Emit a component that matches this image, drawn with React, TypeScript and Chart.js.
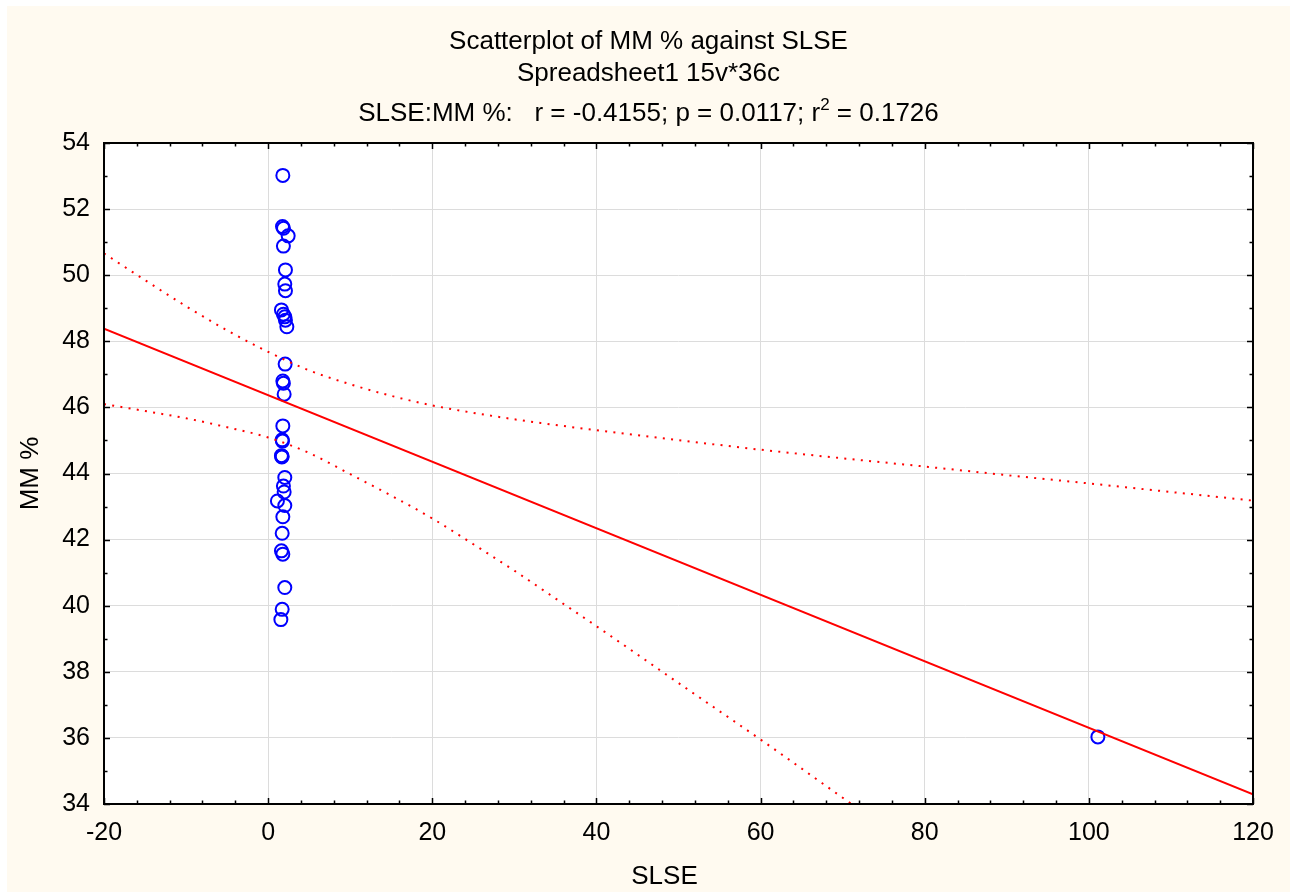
import React, { useEffect, useRef } from 'react';
import { Chart, registerables } from 'chart.js';

Chart.register(...registerables);

// Observations: SLSE (x) and MM % (y), 36 cases
const slseValues = [
  1.79, 1.75, 1.87, 2.44, 1.86, 2.11, 2.03, 2.11, 1.62, 1.86, 2.03, 2.11,
  2.28, 2.07, 1.79, 1.86, 1.95, 1.79, 1.71, 1.75, 1.62, 1.71, 1.67, 2.03,
  1.86, 1.95, 1.13, 2.03, 1.79, 1.71, 1.62, 1.79, 2.03, 1.71, 1.55, 101.1,
];
const mmValues = [
  53.02, 51.47, 51.42, 51.19, 50.88, 50.16, 49.73, 49.53, 48.95, 48.82, 48.74, 48.64,
  48.44, 47.31, 46.80, 46.73, 46.40, 45.44, 45.02, 44.98, 44.54, 44.52, 44.50, 43.88,
  43.62, 43.44, 43.17, 43.03, 42.69, 42.19, 41.66, 41.56, 40.55, 39.89, 39.58, 36.03,
];

// Linear fit across the axis range
const fitX = [-20, 120];
const fitY = [48.38, 34.29];

// 95% confidence band of the fit
const upperBandX = [-20, -15, -10, -5, 0, 5, 10, 15, 20, 30, 40, 50, 60, 70, 80, 90, 100, 110, 120];
const upperBandY = [50.66, 49.85, 49.06, 48.33, 47.68, 47.12, 46.70, 46.35, 46.06, 45.64, 45.31, 45.01, 44.72, 44.46, 44.21, 43.95, 43.70, 43.44, 43.18];
const lowerBandX = [-20, -15, -10, -5, 0, 5, 10, 15, 20, 25, 30, 35, 40, 50, 60, 70, 72];
const lowerBandY = [46.10, 45.89, 45.67, 45.40, 45.09, 44.62, 43.98, 43.33, 42.64, 41.86, 41.06, 40.22, 39.38, 37.66, 35.95, 34.19, 33.84];

// Axis ranges and tick steps
const xRange = [-20, 120];
const yRange = [34, 54];
const xMajorStep = 20;
const xMinorStep = 4;
const yMajorStep = 2;
const yMinorStep = 1;

// Text
const titleLine1 = 'Scatterplot of MM % against SLSE';
const titleLine2 = 'Spreadsheet1 15v*36c';
const statsPrefix = 'SLSE:MM %:   r = -0.4155; p = 0.0117; r';
const statsSup = '2';
const statsSuffix = ' = 0.1726';
const xTitle = 'SLSE';
const yTitle = 'MM %';

const FONT = '"Liberation Sans", Arial, Helvetica, sans-serif';
const zip = (xs: number[], ys: number[]) => xs.map((x, i) => ({ x, y: ys[i] }));

const decorPlugin = {
  id: 'statDecor',
  beforeDraw(chart: any) {
    const { ctx, width, height, chartArea } = chart;
    ctx.save();
    ctx.fillStyle = '#fffaf0';
    ctx.fillRect(0, 0, width, height);
    ctx.fillStyle = '#ffffff';
    ctx.fillRect(chartArea.left, chartArea.top, chartArea.right - chartArea.left, chartArea.bottom - chartArea.top);
    ctx.restore();
  },
  afterDraw(chart: any) {
    const { ctx, width, chartArea } = chart;
    const { left, right, top, bottom } = chartArea;
    const xs = chart.scales.x;
    const ys = chart.scales.y;
    ctx.save();

    // frame
    ctx.strokeStyle = '#000';
    ctx.lineWidth = 2;
    ctx.strokeRect(left, top, right - left, bottom - top);

    // inward tick marks on all four sides
    ctx.lineWidth = 1.5;
    ctx.beginPath();
    for (let v = xRange[0]; v <= xRange[1] + 1e-9; v += xMinorStep) {
      const px = Math.round(xs.getPixelForValue(v)) + 0.5;
      const len = Math.abs(v % xMajorStep) < 1e-9 ? 6 : 3.5;
      ctx.moveTo(px, bottom);
      ctx.lineTo(px, bottom - len);
      ctx.moveTo(px, top);
      ctx.lineTo(px, top + len);
    }
    for (let v = yRange[0]; v <= yRange[1] + 1e-9; v += yMinorStep) {
      const py = Math.round(ys.getPixelForValue(v)) + 0.5;
      const len = Math.abs(v % yMajorStep) < 1e-9 ? 6 : 3.5;
      ctx.moveTo(left, py);
      ctx.lineTo(left + len, py);
      ctx.moveTo(right, py);
      ctx.lineTo(right - len, py);
    }
    ctx.stroke();

    // titles
    ctx.fillStyle = '#000';
    ctx.textBaseline = 'middle';
    ctx.textAlign = 'center';
    ctx.font = `26px ${FONT}`;
    const cx = width / 2;
    ctx.fillText(titleLine1, cx, 36);
    ctx.fillText(titleLine2, cx, 68);

    // statistics line with superscript
    ctx.textAlign = 'left';
    const mainFont = `26px ${FONT}`;
    const supFont = `17px ${FONT}`;
    ctx.font = mainFont;
    const wPre = ctx.measureText(statsPrefix).width;
    const wSuf = ctx.measureText(statsSuffix).width;
    ctx.font = supFont;
    const wSup = ctx.measureText(statsSup).width;
    let sx = cx - (wPre + wSup + wSuf) / 2;
    ctx.font = mainFont;
    ctx.fillText(statsPrefix, sx, 108);
    sx += wPre;
    ctx.font = supFont;
    ctx.fillText(statsSup, sx, 99);
    sx += wSup;
    ctx.font = mainFont;
    ctx.fillText(statsSuffix, sx, 108);

    // axis titles
    ctx.textAlign = 'center';
    ctx.font = `26px ${FONT}`;
    ctx.fillText(xTitle, (left + right) / 2 - 14, 871);
    ctx.translate(24, (top + bottom) / 2);
    ctx.rotate(-Math.PI / 2);
    ctx.fillText(yTitle, 0, 0);
    ctx.restore();
  },
};

export default function App() {
  const canvasRef = useRef<HTMLCanvasElement | null>(null);

  useEffect(() => {
    const canvas = canvasRef.current;
    if (!canvas) return;
    const chart = new Chart(canvas, {
      type: 'scatter',
      data: {
        datasets: [
          {
            type: 'line',
            label: 'fit',
            data: zip(fitX, fitY),
            borderColor: '#ff0000',
            borderWidth: 2,
            pointRadius: 0,
            fill: false,
            order: 1,
          },
          {
            type: 'line',
            label: 'upper 95%',
            data: zip(upperBandX, upperBandY),
            borderColor: '#ff0000',
            borderWidth: 2,
            borderDash: [2, 6.3],
            borderCapStyle: 'butt',
            cubicInterpolationMode: 'monotone',
            pointRadius: 0,
            fill: false,
            order: 1,
          },
          {
            type: 'line',
            label: 'lower 95%',
            data: zip(lowerBandX, lowerBandY),
            borderColor: '#ff0000',
            borderWidth: 2,
            borderDash: [2, 6.3],
            borderCapStyle: 'butt',
            cubicInterpolationMode: 'monotone',
            pointRadius: 0,
            fill: false,
            order: 1,
          },
          {
            type: 'scatter',
            label: 'MM %',
            data: zip(slseValues, mmValues),
            pointStyle: 'circle',
            pointRadius: 6.5,
            pointBorderWidth: 2,
            pointBorderColor: '#0000ff',
            pointBackgroundColor: 'rgba(0,0,0,0)',
            order: 2,
          },
        ],
      },
      options: {
        responsive: false,
        animation: false,
        layout: { padding: { left: 0, top: 137, right: 37, bottom: 0 } },
        plugins: {
          legend: { display: false },
          tooltip: { enabled: false },
          title: { display: false },
        },
        scales: {
          x: {
            type: 'linear',
            position: 'bottom',
            min: xRange[0],
            max: xRange[1],
            afterFit: (s: any) => { s.height = 88; },
            grid: { color: '#dcdcdc', lineWidth: 1, drawTicks: false },
            border: { display: false },
            ticks: {
              stepSize: xMajorStep,
              padding: 14,
              color: '#000',
              font: { family: FONT, size: 25 },
              maxRotation: 0,
            },
          },
          y: {
            type: 'linear',
            position: 'left',
            min: yRange[0],
            max: yRange[1],
            afterFit: (s: any) => { s.width = 97; },
            grid: { color: '#dcdcdc', lineWidth: 1, drawTicks: false },
            border: { display: false },
            ticks: {
              stepSize: yMajorStep,
              padding: 14,
              color: '#000',
              font: { family: FONT, size: 25 },
            },
          },
        },
      },
      plugins: [decorPlugin],
    } as any);
    return () => chart.destroy();
  }, []);

  return (
    <div style={{ position: 'absolute', left: 7, top: 6, width: 1283, height: 886 }}>
      <canvas ref={canvasRef} width={1283} height={886} style={{ display: 'block' }} />
    </div>
  );
}
